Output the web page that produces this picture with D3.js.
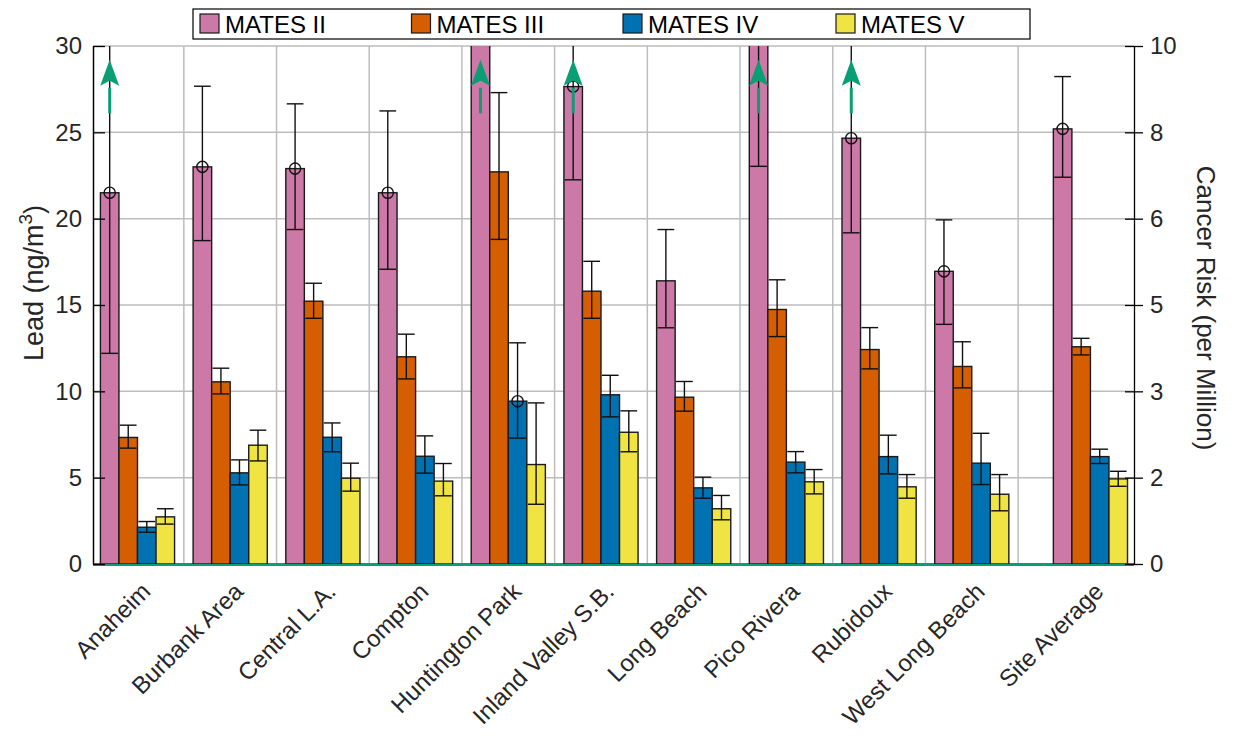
<!DOCTYPE html>
<html>
<head>
<meta charset="utf-8">
<script src="https://cdn.jsdelivr.net/npm/d3@7"></script>
<style>
  html, body { margin: 0; padding: 0; background: #ffffff; }
  svg { display: block; font-family: "Liberation Sans", Arial, Helvetica, sans-serif; }
</style>
</head>
<body>
<svg id="chart" width="1256" height="736"></svg>
<script>
// ---------------- DATA ----------------
const categories = ["Anaheim", "Burbank Area", "Central L.A.", "Compton", "Huntington Park",
  "Inland Valley S.B.", "Long Beach", "Pico Rivera", "Rubidoux", "West Long Beach", "Site Average"];
const seriesNames = ["MATES II", "MATES III", "MATES IV", "MATES V"];
const seriesColors = ["#CC79A7", "#D55E00", "#0072B2", "#F0E442"];

// Lead (ng/m^3) — mean, lower and upper error bounds
const matesII     = [21.5, 23.0, 22.9, 21.5, 40.0, 27.65, 16.4, 33.0, 24.66, 16.95, 25.2];
const matesIILow  = [12.2, 18.73, 19.37, 17.07, 33.0, 22.25, 13.68, 23.03, 19.18, 13.88, 22.4];
const matesIIHigh = [30.8, 27.67, 26.65, 26.24, 47.0, 33.05, 19.37, 43.0, 30.14, 19.93, 28.23];

const matesIII     = [7.33, 10.55, 15.22, 12.0, 22.71, 15.8, 9.66, 14.74, 12.42, 11.44, 12.58];
const matesIIILow  = [6.71, 9.85, 14.23, 10.72, 18.8, 14.23, 8.85, 13.17, 11.3, 10.2, 12.11];
const matesIIIHigh = [8.04, 11.34, 16.26, 13.31, 27.3, 17.53, 10.57, 16.46, 13.69, 12.87, 13.07];

const matesIV     = [2.13, 5.28, 7.34, 6.24, 9.43, 9.8, 4.41, 5.9, 6.22, 5.84, 6.22];
const matesIVLow  = [1.84, 4.58, 6.5, 5.26, 7.29, 8.52, 3.81, 5.28, 5.22, 4.6, 5.82];
const matesIVHigh = [2.46, 6.03, 8.17, 7.42, 12.81, 10.93, 5.03, 6.51, 7.46, 7.57, 6.65];

const matesV     = [2.73, 6.88, 4.97, 4.8, 5.76, 7.63, 3.2, 4.76, 4.47, 4.04, 4.93];
const matesVLow  = [2.31, 5.97, 4.22, 3.95, 3.46, 6.5, 2.56, 4.06, 3.81, 3.08, 4.5];
const matesVHigh = [3.2, 7.75, 5.84, 5.82, 9.33, 8.87, 3.97, 5.47, 5.18, 5.18, 5.37];

// markers: circle at bar top, upward arrow (value off-scale)
const circleII = [1, 1, 1, 1, 0, 1, 0, 0, 1, 1, 1];
const circleIV = [0, 0, 0, 0, 1, 0, 0, 0, 0, 0, 0];
const arrowII  = [1, 0, 0, 0, 1, 1, 0, 1, 1, 0, 0];

const leftTicks = [0, 5, 10, 15, 20, 25, 30];
const rightTickLabels = ["0", "2", "3", "5", "6", "8", "10"];

// ---------------- LAYOUT ----------------
const svg = d3.select("#chart");
const W = 1256, H = 736;
const plot = { left: 93, right: 1134, top: 46, bottom: 564 };
const avgGapPos = 11.28;   // Site Average is set apart from the sites
const barW = 0.2;
const green = "#0A9E74";
const grid = "#BDBDBD";
const ink = "#262626";

svg.append("rect").attr("width", W).attr("height", H).attr("fill", "#fff");

const y = d3.scaleLinear().domain([0, 30]).range([plot.bottom, plot.top]);
const x = d3.scaleLinear().domain([0.52, 11.75]).range([plot.left, plot.right]);
const pos = categories.map((c, i) => i < 10 ? i + 1 : avgGapPos);

const series = [
  { name: seriesNames[0], v: matesII,  lo: matesIILow,  hi: matesIIHigh,  circ: circleII },
  { name: seriesNames[1], v: matesIII, lo: matesIIILow, hi: matesIIIHigh, circ: null },
  { name: seriesNames[2], v: matesIV,  lo: matesIVLow,  hi: matesIVHigh,  circ: circleIV },
  { name: seriesNames[3], v: matesV,   lo: matesVLow,   hi: matesVHigh,   circ: null }
];

svg.append("defs").append("clipPath").attr("id", "clip")
  .append("rect").attr("x", plot.left).attr("y", plot.top)
  .attr("width", plot.right - plot.left).attr("height", plot.bottom - plot.top);

// grid
const gGrid = svg.append("g");
gGrid.selectAll("line.h").data(leftTicks.filter(d => d > 0)).join("line")
  .attr("x1", plot.left).attr("x2", plot.right)
  .attr("y1", d => y(d)).attr("y2", d => y(d))
  .attr("stroke", grid).attr("stroke-width", 1.5);
const vGrid = d3.range(1.5, 10.6, 1);
gGrid.selectAll("line.v").data(vGrid).join("line")
  .attr("x1", d => x(d)).attr("x2", d => x(d))
  .attr("y1", plot.top).attr("y2", plot.bottom)
  .attr("stroke", grid).attr("stroke-width", 1.5);

// baseline (green)
svg.append("line").attr("x1", plot.left).attr("x2", plot.right)
  .attr("y1", y(0) + 0.5).attr("y2", y(0) + 0.5)
  .attr("stroke", green).attr("stroke-width", 3);

const gData = svg.append("g").attr("clip-path", "url(#clip)");

// bars
series.forEach((s, si) => {
  const off = (si - 1.5) * barW;
  gData.append("g").selectAll("rect").data(s.v).join("rect")
    .attr("x", (d, i) => x(pos[i] + off - barW / 2))
    .attr("width", (d, i) => x(pos[i] + off + barW / 2) - x(pos[i] + off - barW / 2))
    .attr("y", d => y(d))
    .attr("height", d => y(0) - y(d))
    .attr("fill", seriesColors[si])
    .attr("stroke", "#1a1a1a").attr("stroke-width", 1.4);
});

// error bars
series.forEach((s, si) => {
  const off = (si - 1.5) * barW;
  const g = gData.append("g").attr("stroke", "#111").attr("stroke-width", 1.4).attr("fill", "none");
  s.v.forEach((d, i) => {
    const cx = x(pos[i] + off);
    const cw = (x(barW) - x(0)) * 0.45;
    g.append("line").attr("x1", cx).attr("x2", cx).attr("y1", y(s.lo[i])).attr("y2", y(s.hi[i]));
    g.append("line").attr("x1", cx - cw).attr("x2", cx + cw).attr("y1", y(s.lo[i])).attr("y2", y(s.lo[i]));
    g.append("line").attr("x1", cx - cw).attr("x2", cx + cw).attr("y1", y(s.hi[i])).attr("y2", y(s.hi[i]));
    if (s.circ && s.circ[i]) {
      g.append("circle").attr("cx", cx).attr("cy", y(d)).attr("r", 5.6);
    }
  });
});

// arrows for off-scale MATES II upper bounds
const gArrow = svg.append("g");
arrowII.forEach((f, i) => {
  if (!f) return;
  const cx = x(pos[i] - 1.5 * barW);
  const yBase = y(26.1), yHead = y(27.7), yTip = y(29.2);
  gArrow.append("line").attr("x1", cx).attr("x2", cx).attr("y1", yBase).attr("y2", yHead + 2)
    .attr("stroke", green).attr("stroke-width", 3);
  gArrow.append("path")
    .attr("d", `M${cx},${yTip} L${cx + 9.5},${yHead} L${cx},${yHead - 5} L${cx - 9.5},${yHead} Z`)
    .attr("fill", green);
});

// left axis
const gL = svg.append("g").attr("transform", `translate(${plot.left},0)`)
  .call(d3.axisLeft(y).tickValues(leftTicks).tickSizeInner(-12).tickSizeOuter(0).tickPadding(11));
gL.select(".domain").attr("stroke", "#000").attr("stroke-width", 1.5);
gL.selectAll(".tick line").attr("stroke", "#000").attr("stroke-width", 1.3);
gL.selectAll(".tick text").attr("font-size", 24).attr("fill", ink)
  .attr("font-family", "Liberation Sans, Arial, sans-serif");

// right axis
const gR = svg.append("g").attr("transform", `translate(${plot.right},0)`)
  .call(d3.axisRight(y).tickValues(leftTicks).tickFormat((d, i) => rightTickLabels[i])
    .tickSizeInner(9).tickSizeOuter(0).tickPadding(7));
gR.select(".domain").attr("stroke", "#000").attr("stroke-width", 1.3);
gR.selectAll(".tick line").attr("x1", -9).attr("stroke", "#000").attr("stroke-width", 1.3);
gR.selectAll(".tick text").attr("font-size", 24).attr("fill", ink)
  .attr("font-family", "Liberation Sans, Arial, sans-serif");

// x labels
const gX = svg.append("g").attr("transform", `translate(0,${plot.bottom})`)
  .call(d3.axisBottom(x).tickValues(pos).tickFormat((d, i) => categories[i]).tickSize(0));
gX.select(".domain").remove();
gX.selectAll(".tick text")
  .attr("font-size", 24).attr("fill", ink)
  .attr("font-family", "Liberation Sans, Arial, sans-serif")
  .attr("text-anchor", "end")
  .attr("x", 0).attr("y", 0).attr("dy", "0.35em")
  .attr("transform", "translate(8,23) rotate(-45)");

// axis titles
const yl = svg.append("text")
  .attr("transform", `translate(43,283) rotate(-90)`)
  .attr("text-anchor", "middle").attr("font-size", 27).attr("fill", ink);
yl.append("tspan").text("Lead (ng/m");
yl.append("tspan").attr("font-size", 19).attr("dy", -11).text("3");
yl.append("tspan").attr("dy", 11).text(")");

svg.append("text")
  .attr("transform", `translate(1197,308) rotate(90)`)
  .attr("text-anchor", "middle").attr("font-size", 26).attr("fill", ink)
  .text("Cancer Risk (per Million)");

// legend
const lg = svg.append("g");
lg.append("rect").attr("x", 193).attr("y", 9).attr("width", 837).attr("height", 30)
  .attr("fill", "#fff").attr("stroke", "#000").attr("stroke-width", 1.2);
const legendX = [200, 411.5, 623, 836];
seriesNames.forEach((n, i) => {
  lg.append("rect").attr("x", legendX[i]).attr("y", 14).attr("width", 19).attr("height", 19)
    .attr("fill", seriesColors[i]).attr("stroke", "#1a1a1a").attr("stroke-width", 1.2);
  lg.append("text").attr("x", legendX[i] + 25).attr("y", 32.5)
    .attr("font-size", 24).attr("fill", "#000").text(n);
});
</script>
</body>
</html>
